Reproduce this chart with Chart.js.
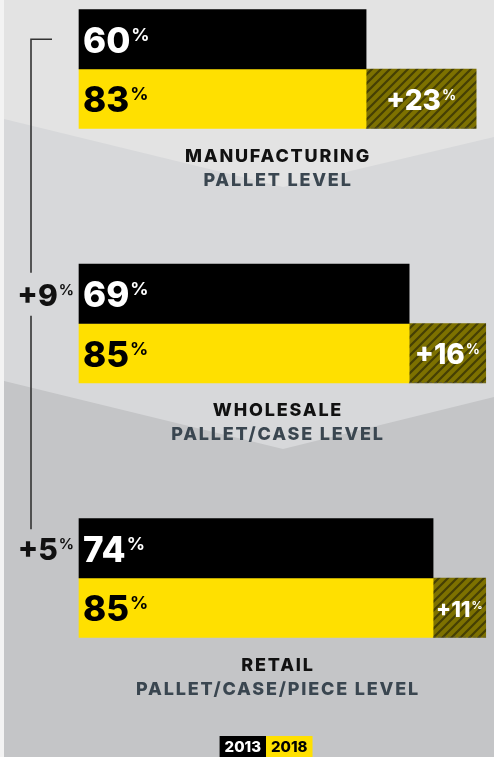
<!DOCTYPE html>
<html>
<head>
<meta charset="utf-8">
<script src="https://cdn.jsdelivr.net/npm/chart.js@4.4.1/dist/chart.umd.min.js"></script>
<style>
  html, body { margin: 0; padding: 0; background: #f3f3f3; }
  #wrap { width: 494px; height: 757px; }
</style>
</head>
<body>
<div id="wrap"><canvas id="chart" width="494" height="757"></canvas></div>
<script>
// data
const sectors = ["MANUFACTURING", "WHOLESALE", "RETAIL"];
const levels = ["PALLET LEVEL", "PALLET/CASE LEVEL", "PALLET/CASE/PIECE LEVEL"];
const years = ["2013", "2018"];
const values2013 = [60, 69, 74];
const values2018 = [83, 85, 85];
const gains = values2018.map((v, i) => v - values2013[i]);

const FONT = "Inter, 'DejaVu Sans', sans-serif";

function makeHatch() {
  const c = document.createElement("canvas");
  c.width = 9;
  c.height = 9;
  const g = c.getContext("2d");
  g.fillStyle = "#7d7100";
  g.fillRect(0, 0, 9, 9);
  g.strokeStyle = "#453f04";
  g.lineWidth = 2.2;
  g.beginPath();
  g.moveTo(-2, 11); g.lineTo(11, -2);
  g.moveTo(-2, 2); g.lineTo(2, -2);
  g.moveTo(7, 11); g.lineTo(11, 7);
  g.stroke();
  return g.createPattern(c, "repeat");
}

// number with a small raised "%"
function drawPct(ctx, text, x, yMid, size, color, align) {
  const small = Math.round(size * 0.5);
  const big = `800 ${size}px ${FONT}`;
  const sm = `700 ${small}px ${FONT}`;
  ctx.font = big;
  const w1 = ctx.measureText(text).width;
  ctx.font = sm;
  const w2 = ctx.measureText("%").width;
  const total = w1 + w2 + 1;
  let x0 = x;
  if (align === "center") x0 = x - total / 2;
  if (align === "right") x0 = x - total;
  const cap = size * 0.727;
  const base = yMid + cap / 2;
  ctx.fillStyle = color;
  ctx.textAlign = "left";
  ctx.textBaseline = "alphabetic";
  ctx.font = big;
  ctx.fillText(text, x0, base);
  ctx.font = sm;
  ctx.fillText("%", x0 + w1 + 1, base - cap + small * 0.727);
}

// grey chevron panels behind the bars
const backdrop = {
  id: "backdrop",
  beforeDraw(chart) {
    const { ctx, width, height } = chart;
    ctx.save();
    ctx.fillStyle = "#c4c5c7";
    ctx.fillRect(0, 0, width, height);
    ctx.fillStyle = "#d7d8da";
    ctx.beginPath();
    ctx.moveTo(0, 0); ctx.lineTo(width, 0); ctx.lineTo(width, 397);
    ctx.lineTo(283, 449); ctx.lineTo(0, 380); ctx.closePath();
    ctx.fill();
    ctx.fillStyle = "#e3e3e3";
    ctx.beginPath();
    ctx.moveTo(0, 0); ctx.lineTo(width, 0); ctx.lineTo(width, 137);
    ctx.lineTo(283, 187); ctx.lineTo(0, 118); ctx.closePath();
    ctx.fill();
    ctx.fillStyle = "#f3f3f3";
    ctx.fillRect(0, 0, 4, height);
    ctx.restore();
  },
};

const labels = {
  id: "labels",
  afterDatasetsDraw(chart) {
    const { ctx } = chart;
    const black = chart.getDatasetMeta(0).data;
    const yellow = chart.getDatasetMeta(1).data;
    const hatch = chart.getDatasetMeta(2).data;
    ctx.save();
    sectors.forEach((name, i) => {
      const b = black[i], y = yellow[i], h = hatch[i];
      drawPct(ctx, String(values2013[i]), b.base + 4, b.y + 1, 35, "#ffffff", "left");
      drawPct(ctx, String(values2018[i]), y.base + 4, y.y + 1, 35, "#000000", "left");

      // dashed edge under the hatched gain
      ctx.strokeStyle = "rgba(90,90,80,0.7)";
      ctx.lineWidth = 1;
      ctx.setLineDash([3, 2]);
      ctx.beginPath();
      ctx.moveTo(h.base, y.y + y.height / 2 - 0.5);
      ctx.lineTo(h.x, y.y + y.height / 2 - 0.5);
      ctx.stroke();
      ctx.setLineDash([]);

      const cx = (h.base + h.x) / 2;
      let size = 28;
      ctx.font = `800 ${size}px ${FONT}`;
      while (ctx.measureText("+" + gains[i]).width + size * 0.5 > h.x - h.base - 6 && size > 16) {
        size -= 1;
        ctx.font = `800 ${size}px ${FONT}`;
      }
      drawPct(ctx, "+" + gains[i], cx, h.y + 1, size, "#ffffff", "center");

      // sector titles under each pair
      const bottom = y.y + y.height / 2;
      ctx.textAlign = "center";
      ctx.textBaseline = "middle";
      ctx.letterSpacing = "1.8px";
      ctx.font = `800 18px ${FONT}`;
      ctx.fillStyle = "#111111";
      ctx.fillText(name, 278, bottom + 28);
      ctx.fillStyle = "#3a4650";
      ctx.fillText(levels[i], 278, bottom + 52);
      ctx.letterSpacing = "0px";
    });

    // bracket on the left with the step-up between 2013 values
    const lx = 31;
    ctx.strokeStyle = "#333333";
    ctx.lineWidth = 1.6;
    ctx.beginPath();
    ctx.moveTo(52, black[0].y);
    ctx.lineTo(lx, black[0].y);
    ctx.lineTo(lx, black[1].y - 21);
    ctx.moveTo(lx, black[1].y + 22);
    ctx.lineTo(lx, black[2].y - 19);
    ctx.stroke();
    for (let i = 1; i < values2013.length; i++) {
      drawPct(ctx, "+" + (values2013[i] - values2013[i - 1]), black[i].base - 5, black[i].y + 1, 30, "#111111", "right");
    }

    // legend boxes at the foot
    ctx.font = `800 15px ${FONT}`;
    const pad = 5;
    const w = years.map((t) => ctx.measureText(t).width + pad * 2);
    let x = 266 - w[0];
    const fills = ["#000000", "#ffe000"];
    const inks = ["#ffffff", "#000000"];
    years.forEach((t, k) => {
      ctx.fillStyle = fills[k];
      ctx.fillRect(x, 736, w[k], 21);
      ctx.fillStyle = inks[k];
      ctx.textAlign = "center";
      ctx.textBaseline = "middle";
      ctx.fillText(t, x + w[k] / 2, 747);
      x += w[k];
    });
    ctx.restore();
  },
};

new Chart(document.getElementById("chart"), {
  type: "bar",
  data: {
    labels: sectors,
    datasets: [
      {
        label: years[0],
        data: values2013,
        backgroundColor: "#000000",
        stack: "a",
        clip: false,
      },
      {
        label: years[1],
        data: values2013,
        backgroundColor: "#ffe000",
        stack: "b",
        clip: false,
      },
      {
        label: "gain",
        data: gains,
        backgroundColor: makeHatch(),
        stack: "b",
        clip: false,
      },
    ],
  },
  options: {
    indexAxis: "y",
    responsive: false,
    animation: false,
    barThickness: 59.5,
    borderWidth: 0,
    layout: {
      padding: { left: 79, right: 0, top: 69, bottom: 179 },
    },
    scales: {
      x: { display: false, stacked: true, min: 0, max: 86.73 },
      y: { display: false, stacked: true, offset: false },
    },
    plugins: {
      legend: { display: false },
      tooltip: { enabled: false },
    },
  },
  plugins: [backdrop, labels],
});
</script>
</body>
</html>
